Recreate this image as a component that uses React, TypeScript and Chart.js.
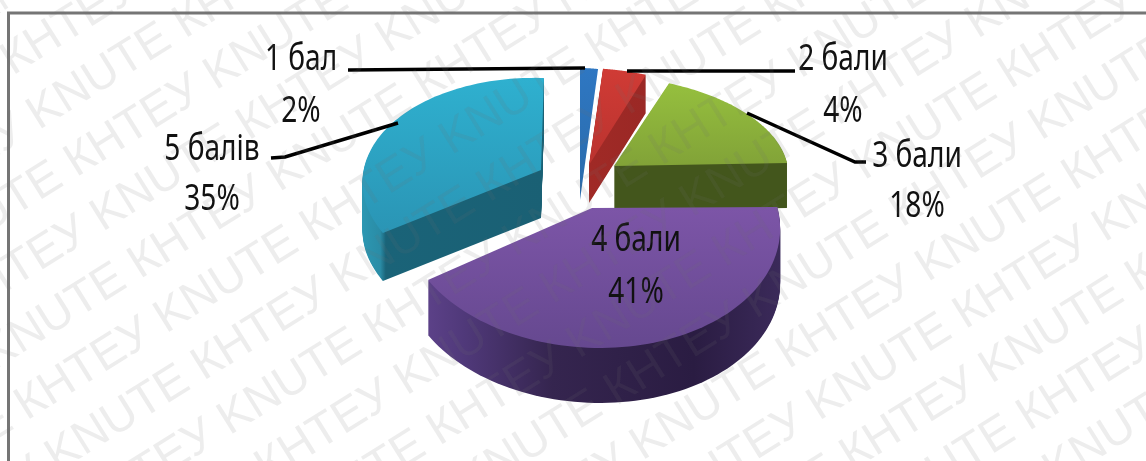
import React, { useEffect, useRef } from "react";
import { Chart, registerables } from "chart.js";

Chart.register(...registerables);

const categories = ["1 бал", "2 бали", "3 бали", "4 бали", "5 балів"];
const shares = [2, 4, 18, 41, 35];
const watermarkWords = ["КНТЕУ", "KNUTE"];

type Shape = {
  a: [number, number]; u: [number, number]; v: [number, number]; k: number; depth: number;
  face: [string, string]; wall: [number, string][]; wallX: [number, number];
};

const shapes: Shape[] = [
  { a: [580, 200], u: [144, 0], v: [0, 132], k: 0, depth: 0, face: ["#2f78c4", "#2a6aa8"], wall: [[0, "#2a5f9a"], [1, "#2a5f9a"]], wallX: [580, 600] },
  { a: [589, 165], u: [175, 0], v: [8, 97], k: 0, depth: 38, face: ["#d23c36", "#b8322e"], wall: [[0, "#a02a26"], [1, "#9a2825"]], wallX: [590, 650] },
  { a: [614, 166], u: [174, 2.7], v: [9.7, 90], k: 0, depth: 45, face: ["#98c33f", "#7f9f37"], wall: [[0, "#43561c"], [1, "#43561c"]], wallX: [610, 790] },
  { a: [592, 208], u: [187, 6.7], v: [-2, 123], k: 0.12, depth: 55, face: ["#7e56a9", "#65488f"], wall: [[0, "#5c4188"], [0.1, "#50397a"], [0.35, "#35254f"], [0.75, "#2a1c42"], [1, "#3b2a5a"]], wallX: [428, 782] },
  { a: [541, 170], u: [176, 5.7], v: [-3.4, 105.6], k: 0.148, depth: 48, face: ["#2fb2d1", "#2a93b3"], wall: [[0, "#2c97b2"], [0.1, "#2a8ca6"], [0.13, "#1a6378"], [1, "#1a6074"]], wallX: [362, 545] },
];
const drawOrder = [0, 1, 2, 4, 3];

const labelLayout = [
  { x: 301, y1: 70, y2: 122 },
  { x: 843, y1: 70, y2: 122 },
  { x: 917, y1: 167, y2: 217 },
  { x: 636, y1: 251, y2: 303 },
  { x: 212, y1: 160, y2: 210 },
];
const leaders: [number, number][][] = [
  [[348, 70], [585, 68]],
  [[627, 71], [795, 71]],
  [[747, 113], [855, 162], [866, 162]],
  [],
  [[271, 158], [285, 157], [398, 123]],
];

const project = (s: Shape, angle: number, dy: number): [number, number] => {
  const X = Math.cos(angle), Y = Math.sin(angle);
  const w = 1 - s.k * Y;
  return [s.a[0] + (s.u[0] * X + s.v[0] * Y) / w, s.a[1] + (s.u[1] * X + s.v[1] * Y) / w + dy];
};

const tracePath = (ctx: CanvasRenderingContext2D, s: Shape, start: number, end: number, dy: number) => {
  ctx.beginPath();
  ctx.moveTo(s.a[0], s.a[1] + dy);
  const steps = 80;
  for (let i = 0; i <= steps; i++) {
    const p = project(s, start + ((end - start) * i) / steps, dy);
    ctx.lineTo(p[0], p[1]);
  }
  ctx.closePath();
};

const pie3d = {
  id: "pie3d",
  beforeDraw(chart: any) {
    const ctx: CanvasRenderingContext2D = chart.ctx;
    ctx.save();
    ctx.fillStyle = "#ffffff";
    ctx.fillRect(0, 0, chart.width, chart.height);
    ctx.strokeStyle = "#757575";
    ctx.lineWidth = 3;
    ctx.strokeRect(8.5, 13, 1300, 600);
    ctx.restore();
  },
  beforeDatasetsDraw(chart: any) {
    const ctx: CanvasRenderingContext2D = chart.ctx;
    const arcs = chart.getDatasetMeta(0).data;
    ctx.save();
    drawOrder.forEach((i) => {
      const s = shapes[i];
      const { startAngle, endAngle } = arcs[i];
      const wall = ctx.createLinearGradient(s.wallX[0], 0, s.wallX[1], 0);
      s.wall.forEach(([o, c]) => wall.addColorStop(o, c));
      ctx.fillStyle = wall;
      for (let d = s.depth; d > 0; d -= 1) {
        tracePath(ctx, s, startAngle, endAngle, d);
        ctx.fill();
      }
      const pts = [startAngle, endAngle, (startAngle + endAngle) / 2].map((t) => project(s, t, 0)[1]);
      const top = Math.min(s.a[1], ...pts) - 10;
      const bottom = Math.max(s.a[1], ...pts) + 10;
      const face = ctx.createLinearGradient(0, top, 0, bottom);
      face.addColorStop(0, s.face[0]);
      face.addColorStop(1, s.face[1]);
      ctx.fillStyle = face;
      tracePath(ctx, s, startAngle, endAngle, 0);
      ctx.fill();
    });
    ctx.restore();
    return false;
  },
  afterDraw(chart: any) {
    const ctx: CanvasRenderingContext2D = chart.ctx;
    ctx.save();
    ctx.strokeStyle = "#000000";
    ctx.lineWidth = 3.5;
    leaders.forEach((line) => {
      if (!line.length) return;
      ctx.beginPath();
      line.forEach(([x, y], j) => (j ? ctx.lineTo(x, y) : ctx.moveTo(x, y)));
      ctx.stroke();
    });
    ctx.fillStyle = "#111111";
    ctx.textAlign = "center";
    ctx.textBaseline = "alphabetic";
    ctx.font = '36px "Noto Sans", "Liberation Sans", sans-serif';
    const narrow = (text: string, x: number, y: number) => {
      ctx.save();
      ctx.translate(x, y);
      ctx.scale(0.78, 1);
      ctx.fillText(text, 0, 0);
      ctx.restore();
    };
    categories.forEach((name, i) => {
      const l = labelLayout[i];
      narrow(name, l.x, l.y1);
      narrow(`${shares[i]}%`, l.x, l.y2);
    });
    ctx.font = '47px "Liberation Sans", sans-serif';
    ctx.fillStyle = "rgba(110,110,110,0.125)";
    ctx.textAlign = "left";
    ctx.rotate((-32 * Math.PI) / 180);
    const word = `${watermarkWords[0]} ${watermarkWords[1]} `;
    const row = word.repeat(6);
    for (let r = -14; r < 10; r++) {
      const odd = Math.abs(r) % 2 === 1;
      const lx = 660 - 171 + (odd ? 171 : 0) - 342 * 3;
      ctx.fillText(row, lx, 851 + r * 60);
    }
    ctx.restore();
  },
};

export default function App() {
  const ref = useRef<HTMLCanvasElement>(null);
  useEffect(() => {
    const chart = new Chart(ref.current as HTMLCanvasElement, {
      type: "pie",
      data: { labels: categories, datasets: [{ data: shares, backgroundColor: shapes.map((s) => s.face[0]) }] },
      options: {
        animation: false,
        responsive: false,
        plugins: { legend: { display: false }, tooltip: { enabled: false } },
      },
      plugins: [pie3d],
    });
    return () => chart.destroy();
  }, []);
  return (
    <div style={{ position: "fixed", left: 0, top: 0, width: 1146, height: 461, overflow: "hidden" }}>
      <canvas ref={ref} width={1146} height={461} style={{ display: "block", width: 1146, height: 461, filter: "blur(0.6px)" }} />
    </div>
  );
}
